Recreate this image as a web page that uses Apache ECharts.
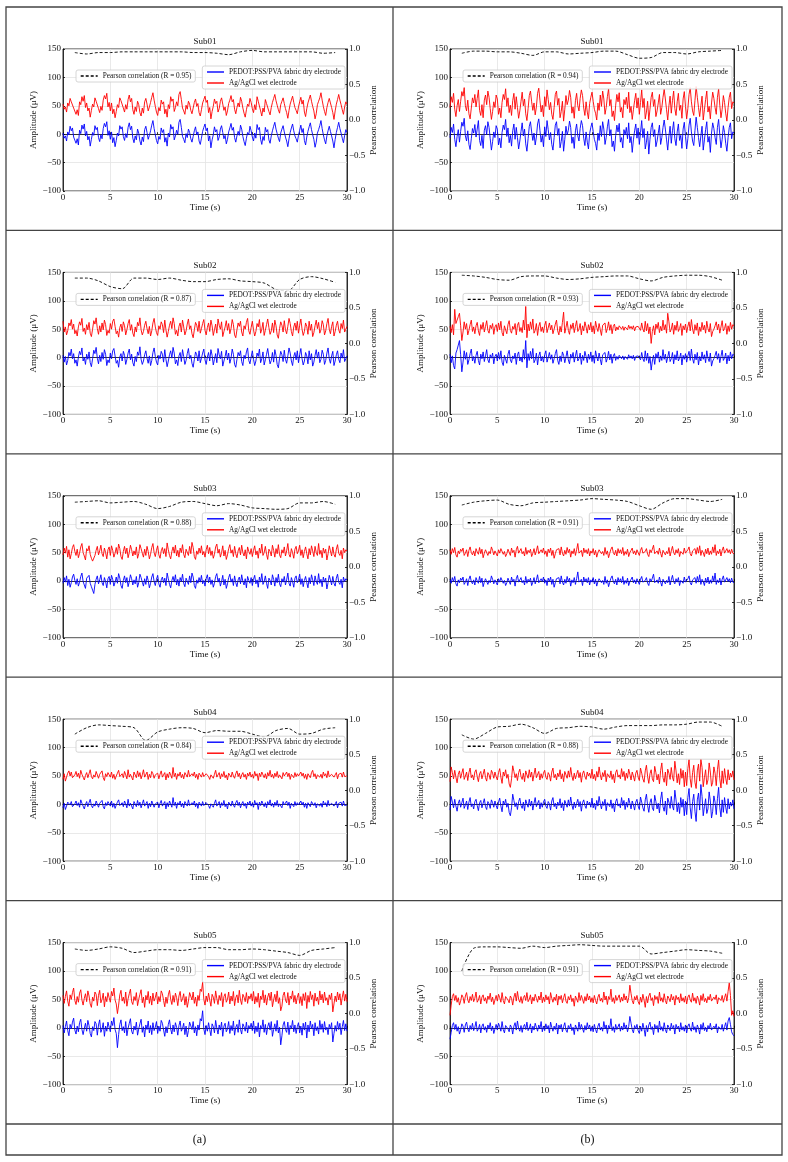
<!DOCTYPE html>
<html>
<head>
<meta charset="utf-8">
<script src="https://cdn.jsdelivr.net/npm/echarts@6/dist/echarts.min.js"></script>
<style>
  html, body { margin: 0; padding: 0; background: #fff; }
  #chart { width: 788px; height: 1162px; }
</style>
</head>
<body>
<div id="chart"></div>
<script>
// sample times (s) of the EEG traces (8 per second) and of the sliding-window correlation
const TIME_S = [
  0,0.125,0.25,0.375,0.5,0.625,0.75,0.875,1,1.125,1.25,1.375,1.5,1.625,1.75,1.875,2,2.125,2.25,2.375,2.5,2.625,2.75,2.875,3,3.125,3.25,3.375,3.5,3.625,3.75,3.875,4,4.125,4.25,4.375,4.5,4.625,4.75,4.875,
  5,5.125,5.25,5.375,5.5,5.625,5.75,5.875,6,6.125,6.25,6.375,6.5,6.625,6.75,6.875,7,7.125,7.25,7.375,7.5,7.625,7.75,7.875,8,8.125,8.25,8.375,8.5,8.625,8.75,8.875,9,9.125,9.25,9.375,9.5,9.625,9.75,9.875,
  10,10.125,10.25,10.375,10.5,10.625,10.75,10.875,11,11.125,11.25,11.375,11.5,11.625,11.75,11.875,12,12.125,12.25,12.375,12.5,12.625,12.75,12.875,13,13.125,13.25,13.375,13.5,13.625,13.75,13.875,14,14.125,14.25,14.375,14.5,14.625,14.75,14.875,
  15,15.125,15.25,15.375,15.5,15.625,15.75,15.875,16,16.125,16.25,16.375,16.5,16.625,16.75,16.875,17,17.125,17.25,17.375,17.5,17.625,17.75,17.875,18,18.125,18.25,18.375,18.5,18.625,18.75,18.875,19,19.125,19.25,19.375,19.5,19.625,19.75,19.875,
  20,20.125,20.25,20.375,20.5,20.625,20.75,20.875,21,21.125,21.25,21.375,21.5,21.625,21.75,21.875,22,22.125,22.25,22.375,22.5,22.625,22.75,22.875,23,23.125,23.25,23.375,23.5,23.625,23.75,23.875,24,24.125,24.25,24.375,24.5,24.625,24.75,24.875,
  25,25.125,25.25,25.375,25.5,25.625,25.75,25.875,26,26.125,26.25,26.375,26.5,26.625,26.75,26.875,27,27.125,27.25,27.375,27.5,27.625,27.75,27.875,28,28.125,28.25,28.375,28.5,28.625,28.75,28.875,29,29.125,29.25,29.375,29.5,29.625,29.75,29.875,
  30
];
const CORR_T = [1.25,2.5,3.75,5,6.25,7.5,8.75,10,11.25,12.5,13.75,15,16.25,17.5,18.75,20,21.25,22.5,23.75,25,26.25,27.5,28.75];

const X_TICKS = [0, 30, 5];          // min, max, step
const AMP_TICKS = [-100, 150, 50];
const CORR_TICKS = [-1, 1, 0.5];

// ---- column (a) ----
const A1_DRY = [
  2,-7,-3,-12,4,-1,14,6,11,-5,-2,-16,-8,-19,7,1,16,9,18,-3,5,-10,-4,-21,-9,3,-2,15,8,12,-6,-13,-1,-8,10,19,13,22,-2,6,
  -9,4,-15,-6,-22,-11,2,-3,15,9,13,-4,-11,1,-6,12,20,8,14,-7,-15,-3,-10,9,2,-12,-19,-5,-13,8,14,3,-9,-2,6,16,24,10,-1,-11,
  -17,-4,-9,11,3,8,-14,-6,-21,2,-5,17,9,13,-10,-3,7,0,21,26,12,-4,-9,-15,1,-6,9,3,-8,-14,-4,6,13,-1,4,-12,-18,-7,5,12,
  18,6,11,-12,-3,-24,-10,-1,13,4,8,-11,-5,9,15,3,-8,-2,-17,-9,4,11,19,7,12,-6,-14,-3,5,-2,16,9,-4,-13,-20,-7,3,-1,14,6,
  -5,-12,2,-7,17,8,12,-9,-18,-4,-11,12,4,8,-10,-16,-3,6,14,21,9,1,-7,-13,2,9,15,4,-5,-12,-22,-8,3,11,18,6,-3,-8,-14,-2,
  7,16,3,10,-11,-19,-5,5,13,20,8,-1,-9,-23,-14,2,8,15,24,10,-1,-10,-17,-3,6,14,5,-3,-12,-24,-9,3,12,21,10,2,-7,-15,-2,8,
  3
];
const A1_WET = [
  53,44,48,39,55,50,63,57,60,46,49,35,43,33,57,52,66,58,68,47,55,41,46,30,42,53,48,64,58,61,45,38,49,42,60,68,62,72,48,56,
  41,55,36,44,29,40,52,47,64,59,62,46,39,52,44,61,69,57,63,43,35,48,40,58,52,38,32,46,37,57,63,53,41,48,56,65,73,60,49,39,
  33,47,41,60,53,57,36,44,30,52,45,66,58,62,40,47,57,50,70,75,61,46,41,35,51,44,58,53,42,36,46,56,62,49,54,38,32,43,55,61,
  67,56,60,38,47,27,40,49,62,54,58,39,45,58,64,53,42,48,33,41,54,60,68,57,61,44,36,47,55,48,65,58,46,37,30,43,53,49,63,56,
  45,38,52,43,66,58,61,41,32,46,39,61,54,57,40,34,47,56,63,70,59,51,43,37,52,58,64,54,45,38,28,42,53,60,67,56,47,42,36,48,
  57,65,53,60,39,31,45,55,62,69,58,49,41,27,36,52,58,64,73,60,49,40,33,47,56,63,55,47,38,26,41,53,61,70,60,52,43,35,48,57,
  53
];
const A1_CORR = [0.95,0.93,0.95,0.95,0.96,0.96,0.96,0.96,0.96,0.96,0.95,0.95,0.94,0.92,0.96,0.98,0.96,0.96,0.96,0.96,0.96,0.94,0.95];

const A2_DRY = [
  4,-8,2,-13,-5,9,3,15,-2,7,-10,-4,-15,1,11,5,17,-6,0,-12,6,-3,10,-9,-16,-2,13,7,18,-1,-11,4,-7,9,-3,14,6,-14,-4,-9,
  8,-2,12,16,3,-10,-5,-17,1,7,-6,11,4,-12,-3,8,15,-4,6,-9,-15,2,-7,10,4,19,-3,-12,-6,5,12,-1,-10,3,-14,-5,9,17,2,-8,
  -13,4,-2,11,6,-8,14,-3,-16,-6,5,12,-1,18,8,-11,-4,-14,3,9,-7,14,2,-12,-5,7,16,-2,4,-10,-17,-3,10,5,-6,12,-9,-1,8,15,
  -4,-12,1,9,-6,14,4,-13,-3,7,-9,16,5,-2,11,-15,-6,2,13,-4,8,-10,-1,15,6,-12,-17,-3,9,3,12,-7,-14,4,-2,10,17,-5,-11,1,
  12,-3,-14,-6,8,2,15,-9,-2,10,-13,-4,6,16,1,-11,-5,9,-8,14,4,-12,-18,-1,11,5,-7,13,-3,-10,3,17,8,-6,-14,2,9,-4,12,-9,
  5,16,-2,-13,-6,9,3,-11,12,-4,7,-15,-8,4,14,-1,10,-9,-3,13,6,-12,-5,8,17,-2,-10,3,11,-14,-6,5,12,-3,-9,8,-1,14,-7,-2,
  3
];
const A2_WET = [
  64,45,54,40,47,61,56,67,50,59,42,48,38,54,63,57,69,46,52,41,58,49,62,43,37,50,65,59,70,51,41,56,45,61,49,66,58,39,48,43,
  60,50,64,68,55,42,47,36,53,59,46,63,56,40,49,60,67,48,58,43,37,54,45,62,56,70,49,40,46,57,64,51,42,55,38,47,61,69,54,44,
  39,56,50,63,58,44,66,49,36,46,57,64,51,70,60,41,48,38,55,61,45,66,54,40,47,59,68,50,56,42,35,49,62,57,46,64,43,51,60,67,
  48,40,53,61,46,66,56,39,49,59,43,68,57,50,63,37,46,54,65,48,60,42,51,67,58,40,35,49,61,55,64,45,38,56,50,62,69,47,41,53,
  64,49,38,46,60,54,67,43,50,62,39,48,58,68,53,41,47,61,44,66,56,40,34,51,63,57,45,65,49,42,55,69,60,46,38,54,61,48,64,43,
  57,68,50,39,46,61,55,41,64,48,59,37,44,56,66,51,62,43,49,65,58,40,47,60,69,50,42,55,63,38,46,57,64,49,43,60,51,66,45,50,
  55
];
const A2_CORR = [0.92,0.92,0.88,0.80,0.77,0.92,0.92,0.90,0.92,0.89,0.87,0.87,0.90,0.91,0.88,0.87,0.85,0.76,0.74,0.90,0.94,0.91,0.86];

const A3_DRY = [
  -4,6,-2,9,-8,3,-11,-3,7,12,1,-6,4,-9,-2,8,14,-1,-7,-13,5,2,10,-4,-10,-16,-22,-6,3,9,-5,2,11,-3,-8,6,-1,-12,4,8,
  -6,10,3,-9,-2,7,-4,13,5,-8,-13,1,9,-3,6,-10,-1,11,4,-7,2,-5,8,-11,-3,12,6,-2,-9,4,-6,9,1,-12,-4,7,13,-1,-8,3,
  10,-5,-11,2,7,-3,5,-8,14,4,-6,-12,1,8,-2,11,-7,3,-9,6,-1,12,-4,-10,5,2,-6,9,-3,14,7,-8,-13,2,-4,6,-2,10,-5,1,
  -9,4,11,-3,7,-6,2,-11,-4,8,13,-2,5,-9,-1,10,-7,3,-13,-5,6,12,-2,4,-8,9,-3,-10,2,7,-5,11,-1,-7,4,-12,8,1,-4,6,
  -8,3,10,-5,2,-11,7,-2,13,-6,-1,9,-4,-13,5,1,-7,11,3,-9,6,-3,12,-5,-10,4,-2,8,-7,2,14,-4,-9,6,-1,-11,5,9,-3,2,
  12,-6,4,-10,1,8,-3,-12,6,-5,11,2,-8,9,-1,-6,13,-4,3,-10,7,-2,5,-14,-3,10,2,-7,8,-4,-9,5,12,-2,-6,3,-12,7,-1,4,
  2
];
const A3_WET = [
  46,58,49,61,42,55,39,48,59,64,52,45,56,41,49,60,66,50,44,37,57,53,62,47,40,35,32,45,54,61,46,53,63,48,43,58,50,39,55,60,
  45,62,54,42,49,59,47,65,57,43,38,52,61,48,58,41,50,63,55,44,53,46,60,40,48,64,57,49,42,56,45,61,52,39,47,59,66,50,43,54,
  62,46,40,53,59,48,57,43,67,55,45,39,52,60,49,63,44,54,42,58,50,64,47,41,56,53,45,61,48,68,59,43,38,53,47,58,49,62,46,52,
  42,55,63,48,59,45,53,40,47,60,65,49,56,42,50,62,44,54,38,46,57,64,49,55,43,61,48,41,53,59,46,63,50,44,55,39,60,52,47,57,
  43,54,62,46,53,40,58,49,65,45,50,61,47,38,56,52,44,63,54,42,57,48,64,46,41,55,49,60,44,53,66,47,42,57,50,40,56,61,48,53,
  63,45,55,41,52,60,48,39,57,46,62,53,43,61,50,45,66,47,54,41,58,49,56,37,48,62,53,44,60,47,42,56,64,49,45,54,39,58,50,55,
  53
];
const A3_CORR = [0.91,0.92,0.93,0.90,0.91,0.92,0.88,0.82,0.85,0.91,0.92,0.89,0.86,0.89,0.87,0.83,0.82,0.81,0.82,0.90,0.90,0.92,0.88];

const A4_DRY = [
  -6,2,-9,-3,4,7,-1,5,-4,-7,1,6,-2,3,-5,8,2,-3,-8,0,5,-4,3,9,-2,-6,1,-3,6,4,-5,2,-1,7,-4,-8,3,-2,5,1,
  -3,6,-5,2,-7,-1,4,8,-2,-5,3,-4,6,1,-6,9,-3,2,-1,-8,5,3,-4,7,-2,4,-6,1,8,-3,-1,5,-7,2,-4,6,3,-5,1,-2,
  4,-6,2,7,-3,-1,5,-8,3,-4,6,1,-5,12,-2,4,-7,3,-1,6,-4,2,-6,5,1,-3,8,-2,-5,3,-1,6,-4,2,-7,4,1,-3,5,-2,
  -4,3,6,-2,-7,1,4,-5,2,8,-3,-1,5,-6,3,-2,7,-4,1,-8,4,2,-3,6,-1,-5,3,7,-2,4,-6,1,5,-3,2,-7,4,-1,6,-3,
  2,-5,7,-1,3,-9,4,-2,6,1,-4,3,-6,5,-1,8,-3,2,-5,4,-2,7,-4,1,3,-6,5,-1,-3,6,-2,4,-7,2,1,-4,5,-2,3,-1,
  -3,6,-1,4,-5,2,-7,3,1,-4,5,8,-2,3,-6,1,4,-3,2,-5,6,-1,3,-4,7,-2,-5,2,4,-3,1,5,-6,2,-1,4,-3,6,-2,1,
  -1
];
const A4_WET = [
  44,54,41,48,55,59,50,57,47,44,52,58,49,55,46,60,53,48,43,51,56,47,54,61,49,45,52,48,58,55,46,53,50,59,47,42,54,49,56,52,
  48,57,46,53,44,50,55,60,49,46,54,47,58,52,45,61,48,53,50,43,57,54,47,59,49,56,45,52,61,48,50,57,44,53,47,58,54,46,52,49,
  55,45,53,59,48,50,56,43,54,47,57,52,46,65,49,55,44,54,50,57,47,53,45,56,52,48,60,49,46,54,50,57,47,53,44,55,52,48,56,49,
  47,54,57,49,44,52,55,46,53,60,48,50,56,45,54,49,58,47,52,43,55,53,48,57,50,46,54,59,49,55,45,52,56,48,53,44,55,50,57,48,
  53,46,58,50,54,42,55,49,57,52,47,54,45,56,50,60,48,53,46,55,49,58,47,52,54,45,56,50,48,57,49,55,44,53,52,47,56,49,54,50,
  48,57,50,55,46,53,44,54,52,47,56,60,49,54,45,52,55,48,53,46,57,50,54,47,59,49,46,53,55,48,52,56,45,53,50,55,48,57,49,52,
  50
];
const A4_CORR = [0.79,0.88,0.92,0.91,0.90,0.88,0.70,0.82,0.86,0.88,0.87,0.81,0.84,0.83,0.83,0.79,0.75,0.84,0.87,0.79,0.80,0.86,0.88];

const A5_DRY = [
  4,-9,2,12,-5,-14,6,-2,10,17,-4,-11,3,-7,9,15,-3,-12,-1,8,-6,13,4,-10,-16,2,-5,11,7,-13,5,14,-8,-2,9,-15,3,-6,10,1,
  -7,12,4,18,-3,-10,-35,-12,6,14,-5,2,-9,11,-14,-1,8,16,-6,-11,3,-4,10,-13,-2,7,15,-8,2,-16,5,-3,12,-9,4,-12,9,-5,1,11,
  -10,3,-6,13,8,-4,-15,2,-9,6,14,-2,-11,5,-7,9,1,-13,4,12,-6,-1,8,-12,3,-16,-5,10,7,-3,11,-9,2,-14,5,-4,16,12,30,-2,
  -12,4,-6,9,-3,-14,7,2,-9,13,-1,-11,5,-4,10,-15,3,8,-7,-2,11,-10,4,-5,12,-13,1,6,-8,14,-3,-11,7,2,-6,10,-9,4,-1,8,
  -5,12,-10,3,-7,9,-16,4,-2,14,-8,6,-12,2,9,-4,11,-15,-3,7,-6,13,-9,1,-30,-14,5,11,-3,-8,10,-12,4,-1,13,-7,5,-10,2,9,
  -9,3,-13,8,-4,10,-18,5,-7,12,-2,6,-14,9,-5,2,-11,13,-3,7,-8,11,-4,1,-12,6,-2,9,-25,-10,4,-6,11,-3,8,-12,2,13,-5,7,
  -6
];
const A5_WET = [
  57,43,55,65,47,38,58,50,62,70,48,41,55,45,61,67,49,40,52,60,46,65,56,42,36,54,47,63,59,39,57,66,44,50,61,37,55,46,62,53,
  45,64,56,70,49,42,25,40,58,66,47,54,43,63,38,51,60,68,46,41,55,48,62,39,50,59,67,44,54,36,57,49,64,43,56,40,61,47,53,63,
  42,55,46,65,60,48,37,54,43,58,66,50,41,57,45,61,53,39,56,64,46,51,60,40,55,36,47,62,59,49,63,43,54,38,57,48,68,64,80,50,
  40,56,46,61,49,38,59,54,43,65,51,41,57,48,62,37,55,60,45,50,63,42,56,47,64,39,53,58,44,66,49,41,59,54,46,62,43,56,51,60,
  47,64,42,55,45,61,36,56,50,66,44,58,40,54,61,48,63,37,49,59,46,65,43,53,30,38,57,63,49,44,62,40,56,51,65,45,57,42,54,61,
  43,55,39,60,48,62,34,57,45,64,50,58,38,61,47,54,41,65,49,59,44,63,48,53,40,58,50,61,28,42,56,46,63,49,60,40,54,65,47,59,
  46
];
const A5_CORR = [0.91,0.89,0.91,0.94,0.92,0.86,0.88,0.90,0.90,0.89,0.91,0.93,0.93,0.90,0.90,0.91,0.90,0.88,0.86,0.82,0.89,0.91,0.93];

// ---- column (b) ----
const B1_DRY = [
  -6,12,3,18,-9,-22,-4,8,-14,5,21,14,28,-3,-12,6,-18,-27,-8,10,2,17,-5,9,24,-11,-20,-2,-25,7,15,-1,22,12,-8,-28,-13,4,-6,15,
  9,-19,-7,-24,3,16,8,26,-4,11,-15,-2,-21,6,18,-9,12,-6,-26,-12,5,20,-3,9,-17,-30,-8,14,22,4,-11,2,-19,-5,18,27,7,-14,-2,-22,
  13,-4,24,8,-10,3,-18,-28,-6,16,22,-2,10,-24,-13,5,-30,-9,14,-1,7,23,12,-16,-5,-25,6,18,-3,-12,10,24,15,-7,-20,4,-14,-26,1,12,
  20,5,-9,-16,-28,2,-11,15,-4,22,9,-18,-6,13,26,-3,8,-22,-12,-30,-2,16,4,19,-14,-6,-24,8,-1,12,-8,20,-15,-4,-32,-10,6,18,-7,11,
  -18,3,24,-6,10,-26,-14,5,-35,-9,12,20,-4,8,-22,-12,2,16,-18,-6,12,25,9,-10,-28,-3,14,-16,6,22,-8,-20,4,18,-11,-2,-25,9,21,-4,
  -26,-8,16,28,4,-12,-20,6,30,12,-6,-22,-3,14,-28,-10,8,22,-14,-4,-32,2,20,10,-6,-18,12,26,-2,-24,-9,15,3,-16,-30,-6,12,20,-8,4,
  2
];
const B1_WET = [
  47,66,56,72,44,31,50,61,40,58,75,67,82,50,41,60,36,27,46,64,55,70,48,63,78,42,33,52,29,60,69,52,76,65,45,26,40,57,47,69,
  62,35,46,29,56,70,61,80,49,64,38,51,33,59,72,44,66,47,28,41,58,74,50,62,36,24,45,68,76,57,42,55,34,48,72,81,60,39,51,31,
  66,49,78,61,43,56,35,26,47,70,76,51,63,29,40,58,23,44,68,52,60,77,65,37,48,28,59,72,50,41,63,78,68,46,33,57,39,27,54,65,
  74,58,44,37,25,55,42,69,49,76,62,35,47,66,80,50,61,31,41,24,51,70,57,73,39,47,29,61,52,65,45,74,38,49,26,43,59,72,46,64,
  35,56,78,47,63,27,39,58,24,44,65,74,49,61,31,41,55,70,35,47,65,79,62,43,25,50,67,37,59,76,45,33,57,72,42,51,28,62,75,49,
  27,45,70,82,57,41,33,59,84,65,47,31,50,67,25,43,61,76,39,49,27,55,74,63,47,35,65,80,51,29,44,68,56,37,23,47,65,74,45,57,
  55
];
const B1_CORR = [0.94,0.97,0.97,0.96,0.96,0.94,0.91,0.96,0.96,0.93,0.94,0.95,0.97,0.97,0.92,0.87,0.88,0.95,0.95,0.93,0.96,0.97,0.98];

const B2_DRY = [
  6,-9,3,-14,-20,8,14,22,30,5,-25,-8,12,-3,9,-12,-4,7,15,-6,2,-10,4,11,-5,-13,6,-2,10,-7,3,14,-4,-9,5,-1,8,-11,2,6,
  -6,9,-3,12,-8,-14,4,1,-10,6,13,-4,-9,3,-2,8,-12,5,10,-6,1,-8,14,-3,30,-18,7,-5,11,-2,16,-9,-4,8,-13,3,10,-6,2,-8,
  5,12,-8,-6,9,-3,5,-10,-2,7,14,-5,-12,3,-7,10,4,-9,1,12,-4,-11,6,-1,9,-8,3,13,-6,-2,8,-12,4,-5,11,2,-9,6,-3,10,
  -7,4,-10,12,1,-6,8,-3,-13,5,2,9,-8,-1,11,-4,6,-10,3,7,-5,2,-3,4,1,-2,3,-4,2,0,-3,5,-1,3,-2,4,-5,2,-1,3,
  6,-4,9,-2,-7,12,-5,8,-10,2,-22,-6,4,-12,7,-1,10,-8,3,-5,14,-3,6,-9,1,11,-7,-2,9,-11,5,-4,12,-6,-1,8,-13,4,-3,7,
  -8,3,11,-5,15,-2,-10,6,-4,9,-13,2,-6,10,-3,5,-9,12,-1,-7,8,-15,-6,-2,4,11,-3,7,-9,2,13,-5,-1,8,-11,4,-6,10,-2,6,
  4
];
const B2_WET = [
  55,44,58,40,85,60,66,72,78,56,30,45,63,50,60,40,48,58,66,46,54,42,56,62,47,39,58,50,62,45,55,65,48,43,57,51,60,41,54,58,
  46,61,49,64,44,38,56,53,42,58,65,48,43,55,50,60,40,57,62,46,53,44,66,49,90,35,59,47,63,50,68,43,48,60,39,55,62,46,54,44,
  57,64,44,46,61,49,57,42,50,59,66,47,40,55,45,62,80,43,53,64,48,41,58,51,61,44,55,65,46,50,60,40,56,47,63,54,43,58,49,62,
  45,56,42,64,53,46,60,49,39,57,54,61,44,51,63,48,58,42,55,59,47,54,49,56,53,50,55,48,54,52,49,57,51,55,50,56,47,54,51,55,
  58,48,61,50,45,64,47,60,42,54,25,46,56,40,59,51,62,44,55,47,66,49,58,43,78,63,45,50,61,41,57,48,64,46,51,60,39,56,49,59,
  44,55,63,47,67,50,42,58,48,61,39,54,46,62,49,57,43,64,51,45,60,37,46,50,56,63,49,59,43,54,65,47,51,60,41,56,46,62,50,58,
  56
];
const B2_CORR = [0.96,0.95,0.93,0.90,0.89,0.94,0.95,0.95,0.92,0.90,0.91,0.93,0.94,0.95,0.95,0.91,0.88,0.93,0.95,0.96,0.96,0.94,0.89];

const B3_DRY = [
  3,-4,6,-1,8,-5,-9,2,-3,5,1,7,-6,-2,4,-8,3,9,-1,-5,2,-7,6,0,-4,8,-3,5,-10,-2,4,7,-6,1,-3,9,3,-5,2,-1,
  -7,4,-2,6,9,-4,1,-8,-3,5,2,-6,7,-1,3,-9,4,10,-2,-5,6,-3,1,-7,8,-4,3,-1,5,-8,-2,6,-5,2,11,-3,-6,4,-1,7,
  -4,2,-8,5,-1,7,-6,3,-11,-3,4,1,6,-5,9,-2,-7,3,-4,8,-1,5,-9,2,-3,6,-6,4,16,-2,-5,3,-8,7,-1,4,-3,6,-7,2,
  -2,6,-5,3,-9,-1,4,7,-3,1,-6,8,-4,2,-10,-2,5,9,-1,-5,3,-7,6,-2,4,-3,8,-6,1,-4,5,-8,-1,3,7,-3,2,-5,4,-1,
  -6,3,8,-2,-5,1,6,-4,-8,4,-1,5,12,-3,-6,2,-4,7,-2,-9,3,6,-5,1,-3,8,-7,2,10,-1,-5,4,-2,6,-8,1,3,-4,7,-2,
  -5,4,9,-3,-7,2,-1,6,-4,8,-2,11,-6,3,-1,-8,5,-3,7,-5,2,-4,9,-1,14,-6,2,-3,5,-7,3,9,-2,-4,6,-1,4,-3,5,-2,
  -3
];
const B3_WET = [
  55,47,57,50,59,46,42,53,48,56,52,58,45,49,55,43,54,60,50,46,53,44,57,51,47,59,48,56,41,49,55,58,45,52,48,60,54,46,53,50,
  44,55,49,57,60,47,52,43,48,56,53,45,58,50,54,42,55,61,49,46,57,48,52,44,59,47,54,50,56,43,49,57,46,53,62,48,45,55,50,58,
  47,53,43,56,50,58,45,54,40,48,55,52,57,46,60,49,44,54,47,59,50,56,42,53,48,57,45,55,66,49,46,54,43,58,50,55,48,57,44,53,
  49,57,46,54,42,50,55,58,48,52,45,59,47,53,41,49,56,60,50,46,54,44,57,49,55,48,59,45,52,47,56,43,50,54,58,48,53,46,55,50,
  45,54,59,49,46,52,57,47,43,55,50,56,63,48,45,53,47,58,49,42,54,57,46,52,48,59,44,53,61,50,46,55,49,57,43,52,54,47,58,49,
  46,55,60,48,44,53,50,57,47,59,49,62,45,54,50,43,56,48,58,46,53,47,60,50,64,45,53,48,56,44,54,60,49,47,57,50,55,48,56,49,
  48
];
const B3_CORR = [0.87,0.91,0.93,0.94,0.88,0.86,0.90,0.91,0.92,0.93,0.94,0.96,0.95,0.94,0.92,0.86,0.81,0.90,0.96,0.96,0.94,0.92,0.95];

const B4_DRY = [
  -10,14,4,-6,9,-3,-12,2,8,-5,3,11,-7,-1,6,-9,4,12,-4,1,-8,5,9,-2,-11,3,7,-6,2,10,-4,-9,5,1,-7,8,3,-5,6,-2,
  -8,4,11,-3,-13,6,-1,9,-5,2,-14,-20,-6,18,7,-4,3,-9,5,11,-2,-7,4,-11,8,1,-5,9,-3,6,-10,2,12,-4,-1,7,-8,3,-5,4,
  9,-3,-7,5,1,-10,6,12,-4,2,-8,4,-2,10,-6,3,-11,7,1,-5,8,-3,13,-1,-9,4,-6,2,9,-4,5,-12,3,8,-2,-7,6,-1,4,-5,
  11,-6,2,-9,7,-3,14,1,-8,5,-2,9,-11,3,6,-4,8,-7,2,-13,5,10,-3,1,-6,12,-2,7,-9,4,-5,11,2,-8,6,-1,-10,4,9,-3,
  -9,13,4,-6,-12,8,18,-2,-14,3,10,-6,-11,16,5,-8,2,-15,9,22,-4,-12,6,-18,11,4,-7,14,-3,-10,25,8,-13,3,-16,12,-5,9,-20,6,
  -18,12,28,-6,-25,5,18,-12,-30,8,20,-10,35,14,-20,-4,10,-16,-8,22,6,-24,-12,15,4,-18,10,30,-6,-22,8,-14,12,-5,-16,10,-8,4,-3,8,
  -8
];
const B4_WET = [
  40,66,56,45,60,48,38,53,59,46,55,63,44,50,57,42,56,64,47,52,43,57,61,49,40,54,58,45,53,62,47,41,56,52,44,60,55,46,57,49,
  43,56,63,48,37,57,50,61,46,53,36,30,45,68,58,47,54,42,56,62,49,44,55,40,59,52,46,61,48,57,41,53,64,47,50,58,43,54,46,55,
  60,48,44,56,52,41,57,64,47,53,43,55,49,61,45,54,40,58,52,46,59,48,65,50,42,55,45,53,60,47,56,39,54,59,49,44,57,50,55,46,
  62,45,53,42,58,48,66,52,43,56,49,60,40,54,57,47,59,44,53,38,56,61,48,52,45,63,49,58,42,55,46,62,53,43,57,50,41,55,60,48,
  42,64,55,45,39,59,69,49,37,54,61,45,40,67,56,43,53,36,60,73,47,39,57,33,62,55,44,65,48,41,76,59,38,54,35,63,46,60,31,57,
  33,63,79,45,30,56,69,39,28,59,71,41,80,65,31,47,61,35,43,73,57,32,39,66,55,33,61,78,45,29,59,37,63,46,35,61,43,55,48,59,
  43
];
const B4_CORR = [0.78,0.72,0.80,0.89,0.90,0.93,0.88,0.80,0.87,0.88,0.90,0.89,0.86,0.89,0.91,0.91,0.91,0.92,0.92,0.93,0.96,0.96,0.90];

const B5_DRY = [
  -20,-8,4,9,-3,6,-6,2,-11,-4,7,3,-8,5,10,-2,-7,4,-3,8,-5,1,11,-6,-2,6,-9,3,7,-4,2,-8,5,-1,9,-5,3,-10,-2,6,
  -4,8,2,-6,11,-3,-9,4,7,-2,-7,5,1,-11,3,9,-4,12,-1,-6,4,-8,2,6,-3,10,-5,-1,7,-9,3,-4,8,1,-6,5,-2,11,-7,3,
  -5,7,-2,4,-9,10,1,-6,3,-3,8,-11,5,-1,6,-7,2,9,-4,-8,4,-2,7,-5,1,-12,5,3,-6,10,-3,6,-1,-8,4,-4,9,-2,5,-6,
  2,-7,6,-3,-9,3,8,-4,1,-6,11,-2,5,-10,4,-1,16,-5,2,-8,6,-3,-1,7,-6,3,-4,9,-2,5,-7,2,20,8,-3,-9,4,-2,6,-5,
  -10,3,-6,8,-2,-15,4,-7,5,10,-3,2,-12,6,-1,4,-8,12,-4,2,-6,9,-3,-9,5,1,-5,8,-2,4,-11,6,-1,3,-7,9,-4,2,-6,5,
  -9,3,7,-2,-6,10,-4,2,-8,5,-1,-11,6,-3,9,-5,1,-7,4,-2,8,-4,-6,3,-1,7,-9,2,5,-3,6,-6,2,9,-4,12,18,6,-7,-12,
  -14
];
const B5_WET = [
  22,40,55,60,48,57,45,53,40,47,58,54,43,56,62,49,44,55,48,59,46,52,63,45,49,57,42,54,58,47,53,43,56,50,61,46,54,41,49,57,
  47,59,53,45,62,48,42,55,58,49,44,56,52,40,54,61,47,64,50,45,55,43,53,57,48,62,46,50,58,42,54,47,59,52,45,56,49,63,44,54,
  46,58,49,55,42,62,52,45,54,48,59,40,56,50,57,44,53,60,47,43,55,49,58,46,52,38,56,54,45,62,48,57,50,43,55,47,60,49,56,45,
  53,44,57,48,42,54,59,47,52,45,63,49,56,41,55,50,68,46,53,43,57,48,50,58,45,54,47,60,49,56,44,53,75,60,48,42,55,49,57,46,
  41,54,45,59,49,36,55,44,56,61,48,53,39,57,50,55,43,63,47,53,45,60,48,42,56,52,46,59,49,55,40,57,50,54,44,60,47,53,45,56,
  42,54,58,49,45,61,47,53,43,56,50,40,57,48,60,46,52,44,55,49,59,47,45,54,50,58,42,53,56,48,57,45,53,60,47,64,80,57,22,30,
  20
];
const B5_CORR = [0.60,0.92,0.94,0.94,0.93,0.92,0.95,0.93,0.95,0.96,0.97,0.96,0.95,0.95,0.95,0.95,0.84,0.86,0.88,0.90,0.89,0.88,0.85];

const PANELS = [
  { title: 'Sub01', r: '0.95', dry: A1_DRY, wet: A1_WET, corr: A1_CORR },
  { title: 'Sub02', r: '0.87', dry: A2_DRY, wet: A2_WET, corr: A2_CORR },
  { title: 'Sub03', r: '0.88', dry: A3_DRY, wet: A3_WET, corr: A3_CORR },
  { title: 'Sub04', r: '0.84', dry: A4_DRY, wet: A4_WET, corr: A4_CORR },
  { title: 'Sub05', r: '0.91', dry: A5_DRY, wet: A5_WET, corr: A5_CORR },
  { title: 'Sub01', r: '0.94', dry: B1_DRY, wet: B1_WET, corr: B1_CORR },
  { title: 'Sub02', r: '0.93', dry: B2_DRY, wet: B2_WET, corr: B2_CORR },
  { title: 'Sub03', r: '0.91', dry: B3_DRY, wet: B3_WET, corr: B3_CORR },
  { title: 'Sub04', r: '0.88', dry: B4_DRY, wet: B4_WET, corr: B4_CORR },
  { title: 'Sub05', r: '0.91', dry: B5_DRY, wet: B5_WET, corr: B5_CORR }
];
const DRY_NAME = 'PEDOT:PSS/PVA fabric dry electrode';
const WET_NAME = 'Ag/AgCl wet electrode';
const COLUMN_LABELS = ['(a)', '(b)'];

// layout
const FONT = '"Liberation Serif", "Times New Roman", serif';
const CHART_W = 788;
const ROW_TOP = [7, 230.4, 453.8, 677.2, 900.6];
const TABLE_BOTTOM = 1155, LABEL_ROW_TOP = 1124;
const TABLE_X = [6, 393, 782];
const PLOT_LEFT = [63, 450];
const PLOT_W = 284, PLOT_H = 142;

const minus = s => String(s).replace('-', '\u2212');
const axisLineStyle = { color: '#000', width: 0.8 };
const tickLabel = { fontFamily: FONT, fontSize: 9, color: '#111' };

const grids = [], xAxes = [], yAxes = [], series = [], legends = [], graphics = [];

PANELS.forEach((p, i) => {
  const col = i < 5 ? 0 : 1;
  const row = i % 5;
  const left = PLOT_LEFT[col];
  const top = ROW_TOP[row] + 42;

  grids.push({
    left: left, top: top, width: PLOT_W, height: PLOT_H,
    show: true, borderColor: '#000', borderWidth: 0.8, backgroundColor: 'transparent'
  });

  xAxes.push({
    type: 'value', gridIndex: i,
    min: X_TICKS[0], max: X_TICKS[1], interval: X_TICKS[2],
    name: 'Time (s)', nameLocation: 'middle', nameGap: 12,
    nameTextStyle: { fontFamily: FONT, fontSize: 9, color: '#111' },
    axisLine: { show: true, lineStyle: axisLineStyle },
    axisTick: { show: true, inside: true, length: 2, lineStyle: axisLineStyle },
    axisLabel: Object.assign({ margin: 2 }, tickLabel),
    splitLine: { show: true, lineStyle: { color: '#e3e3e3', width: 0.8 } }
  });

  yAxes.push({
    type: 'value', gridIndex: i, position: 'left',
    min: AMP_TICKS[0], max: AMP_TICKS[1], interval: AMP_TICKS[2],
    name: 'Amplitude (\u03bcV)', nameLocation: 'middle', nameGap: 23, nameRotate: 90,
    nameTextStyle: { fontFamily: FONT, fontSize: 9, color: '#111' },
    axisLine: { show: true, lineStyle: axisLineStyle },
    axisTick: { show: true, inside: true, length: 2, lineStyle: axisLineStyle },
    axisLabel: Object.assign({ margin: 2, formatter: v => minus(v) }, tickLabel),
    splitLine: { show: true, lineStyle: { color: '#e3e3e3', width: 0.8 } }
  });

  yAxes.push({
    type: 'value', gridIndex: i, position: 'right',
    min: CORR_TICKS[0], max: CORR_TICKS[1], interval: CORR_TICKS[2],
    name: 'Pearson correlation', nameLocation: 'middle', nameGap: 20, nameRotate: 90,
    nameTextStyle: { fontFamily: FONT, fontSize: 9, color: '#111' },
    axisLine: { show: true, lineStyle: axisLineStyle },
    axisTick: { show: true, inside: true, length: 2, lineStyle: axisLineStyle },
    axisLabel: Object.assign({ margin: 2, formatter: v => minus(v.toFixed(1)) }, tickLabel),
    splitLine: { show: false }
  });

  const corrName = 'Pearson correlation (R = ' + p.r + ')';

  series.push({
    type: 'line', name: DRY_NAME, xAxisIndex: i, yAxisIndex: 2 * i,
    data: p.dry.map((v, k) => [TIME_S[k], v]),
    symbol: 'none', color: '#0000ff',
    lineStyle: { color: '#0000ff', width: 0.9 }
  });
  series.push({
    type: 'line', name: WET_NAME, xAxisIndex: i, yAxisIndex: 2 * i,
    data: p.wet.map((v, k) => [TIME_S[k], v]),
    symbol: 'none', color: '#ff0000',
    lineStyle: { color: '#ff0000', width: 0.9 }
  });
  series.push({
    type: 'line', name: corrName, xAxisIndex: i, yAxisIndex: 2 * i + 1,
    data: p.corr.map((v, k) => [CORR_T[k], v]),
    symbol: 'none', smooth: 0.3, color: '#000',
    lineStyle: { color: '#000', width: 0.9, type: [3, 2] }
  });

  const legendBase = {
    orient: 'vertical', selectedMode: false,
    itemWidth: 17, itemHeight: 10, itemGap: 1,
    padding: [1, 4, 1, 4],
    borderColor: '#cccccc', borderWidth: 0.8, borderRadius: 2,
    backgroundColor: 'rgba(255,255,255,0.85)',
    itemStyle: { opacity: 0 },
    lineStyle: { width: 1.4 },
    textStyle: { fontFamily: FONT, fontSize: 7.3, color: '#111', lineHeight: 10 }
  };
  legends.push(Object.assign({}, legendBase, {
    left: left + 13, top: top + 21, data: [corrName]
  }));
  // right-hand legend sits against the right edge of the plot box
  legends.push(Object.assign({}, legendBase, {
    right: CHART_W - (left + PLOT_W - 2), top: top + 17, data: [DRY_NAME, WET_NAME]
  }));

  graphics.push({
    type: 'text', x: left + PLOT_W / 2, y: top - 7,
    style: {
      text: p.title, font: '9px ' + FONT, fill: '#111',
      textAlign: 'center', textVerticalAlign: 'middle', align: 'center', verticalAlign: 'middle'
    }
  });
});

// table frame around the panels
const frame = { stroke: '#444', lineWidth: 1.3, fill: 'none' };
graphics.push({
  type: 'rect', shape: { x: TABLE_X[0], y: ROW_TOP[0], width: TABLE_X[2] - TABLE_X[0], height: TABLE_BOTTOM - ROW_TOP[0] },
  style: frame, silent: true
});
graphics.push({
  type: 'line', shape: { x1: TABLE_X[1], y1: ROW_TOP[0], x2: TABLE_X[1], y2: TABLE_BOTTOM },
  style: frame, silent: true
});
ROW_TOP.slice(1).concat([LABEL_ROW_TOP]).forEach(y => {
  graphics.push({
    type: 'line', shape: { x1: TABLE_X[0], y1: y, x2: TABLE_X[2], y2: y },
    style: frame, silent: true
  });
});
COLUMN_LABELS.forEach((txt, c) => {
  graphics.push({
    type: 'text', x: (TABLE_X[c] + TABLE_X[c + 1]) / 2, y: (LABEL_ROW_TOP + TABLE_BOTTOM) / 2,
    style: {
      text: txt, font: '12px ' + FONT, fill: '#111',
      textAlign: 'center', textVerticalAlign: 'middle', align: 'center', verticalAlign: 'middle'
    }
  });
});

const chart = echarts.init(document.getElementById('chart'), null, { renderer: 'canvas' });
chart.setOption({
  backgroundColor: '#fff',
  animation: false,
  grid: grids,
  xAxis: xAxes,
  yAxis: yAxes,
  legend: legends,
  series: series,
  graphic: graphics
});
</script>
</body>
</html>
